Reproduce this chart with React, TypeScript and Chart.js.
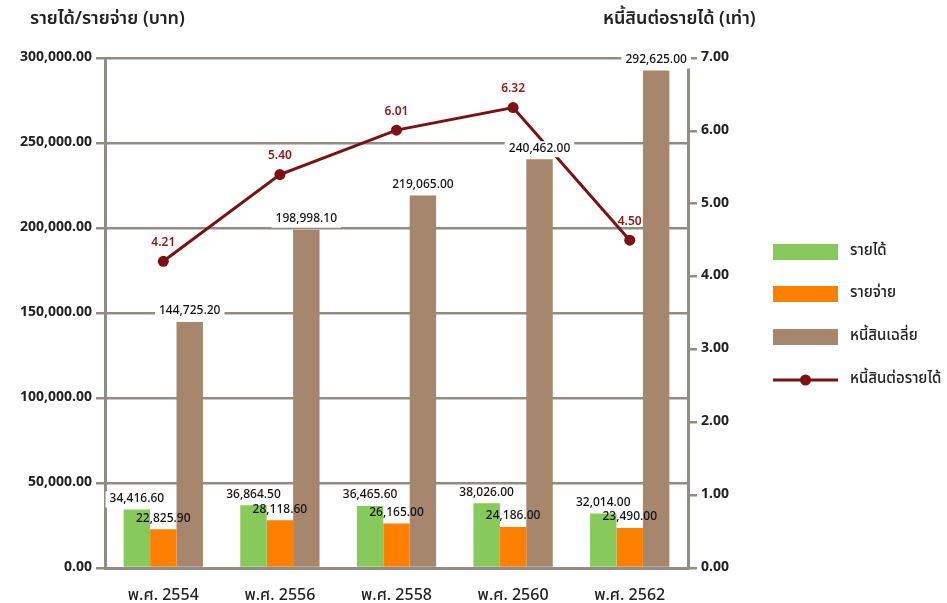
import React, { useEffect, useRef } from "react";
import { Chart, registerables } from "chart.js";

Chart.register(...registerables);

const categories = ["พ.ศ. 2554", "พ.ศ. 2556", "พ.ศ. 2558", "พ.ศ. 2560", "พ.ศ. 2562"];
const income = [34416.6, 36864.5, 36465.6, 38026.0, 32014.0];
const expense = [22825.9, 28118.6, 26165.0, 24186.0, 23490.0];
const avgDebt = [144725.2, 198998.1, 219065.0, 240462.0, 292625.0];
const debtRatio = [4.21, 5.4, 6.01, 6.32, 4.5];

const leftTitle = "รายได้/รายจ่าย (บาท)";
const rightTitle = "หนี้สินต่อรายได้ (เท่า)";

const FONT = "'Noto Sans Thai', 'Noto Sans', 'DejaVu Sans', sans-serif";
const GRID = "#8f8d86";
const GREEN = "#88c95c";
const ORANGE = "#ff8000";
const BROWN = "#a6866c";
const RED = "#7b1113";

const fmt = (v: number) =>
  v.toLocaleString("en-US", { minimumFractionDigits: 2, maximumFractionDigits: 2 });

const labelsPlugin = {
  id: "customLabels",
  afterDatasetsDraw(chart: any) {
    const ctx = chart.ctx;
    ctx.save();
    ctx.textAlign = "center";
    ctx.textBaseline = "middle";
    chart.data.datasets.forEach((ds: any, di: number) => {
      const meta = chart.getDatasetMeta(di);
      meta.data.forEach((el: any, i: number) => {
        const v = ds.data[i];
        if (ds.type === "line") {
          ctx.font = `600 12px ${FONT}`;
          ctx.fillStyle = "#8b1a1a";
          ctx.fillText(v.toFixed(2), el.x, el.y - 18);
        } else {
          const text = fmt(v);
          ctx.font = `500 12px ${FONT}`;
          const w = ctx.measureText(text).width;
          const y = el.y - 10;
          if (ds.label !== "รายจ่าย") {
            ctx.fillStyle = "#ffffff";
            ctx.fillRect(el.x - w / 2 - 4, y - 8, w + 8, 16);
          }
          ctx.fillStyle = "#111111";
          ctx.fillText(text, el.x, y);
        }
      });
    });
    ctx.restore();
  },
};

const decorPlugin = {
  id: "decor",
  afterDraw(chart: any) {
    const ctx = chart.ctx;
    ctx.save();
    // axis titles
    ctx.fillStyle = "#222222";
    ctx.font = `600 18px ${FONT}`;
    ctx.textAlign = "left";
    ctx.textBaseline = "middle";
    ctx.fillText(leftTitle, 30, 20);
    ctx.fillText(rightTitle, 603, 20);

    // legend
    const x0 = 773;
    const bw = 65;
    const rows = [252, 294, 337, 380];
    chart.data.datasets.forEach((ds: any) => {
      const cy = rows[ds.legendIndex];
      if (ds.type === "line") {
        ctx.strokeStyle = ds.borderColor;
        ctx.lineWidth = 3;
        ctx.beginPath();
        ctx.moveTo(x0, cy);
        ctx.lineTo(x0 + bw, cy);
        ctx.stroke();
        ctx.fillStyle = ds.borderColor;
        ctx.beginPath();
        ctx.arc(x0 + bw / 2, cy, 5.5, 0, Math.PI * 2);
        ctx.fill();
      } else {
        ctx.fillStyle = ds.backgroundColor;
        ctx.fillRect(x0, cy - 8, bw, 16);
      }
      ctx.fillStyle = "#222222";
      ctx.font = `500 15px ${FONT}`;
      ctx.fillText(ds.label, 850, cy);
    });
    ctx.restore();
  },
};

export default function App() {
  const ref = useRef<HTMLCanvasElement | null>(null);

  useEffect(() => {
    document.body.style.margin = "0";
    const canvas = ref.current;
    if (!canvas) return;
    const chart = new Chart(canvas, {
      type: "bar",
      data: {
        labels: categories,
        datasets: [
          {
            type: "line",
            label: "หนี้สินต่อรายได้",
            data: debtRatio,
            yAxisID: "y1",
            borderColor: RED,
            backgroundColor: RED,
            borderWidth: 3,
            pointRadius: 5.5,
            pointBackgroundColor: RED,
            pointBorderWidth: 0,
            order: 0,
            legendIndex: 3,
          } as any,
          {
            type: "bar",
            label: "รายได้",
            data: income,
            yAxisID: "y",
            backgroundColor: GREEN,
            order: 1,
            legendIndex: 0,
          } as any,
          {
            type: "bar",
            label: "รายจ่าย",
            data: expense,
            yAxisID: "y",
            backgroundColor: ORANGE,
            order: 1,
            legendIndex: 1,
          } as any,
          {
            type: "bar",
            label: "หนี้สินเฉลี่ย",
            data: avgDebt,
            yAxisID: "y",
            backgroundColor: BROWN,
            order: 1,
            legendIndex: 2,
          } as any,
        ],
      },
      options: {
        responsive: false,
        animation: false,
        layout: { padding: { top: 58, right: 197, left: 0, bottom: 0 } },
        datasets: {
          bar: { categoryPercentage: 0.68, barPercentage: 1.0 },
        } as any,
        plugins: {
          legend: { display: false },
          tooltip: { enabled: false },
        },
        scales: {
          x: {
            grid: { display: false },
            border: { display: true, color: GRID, width: 3 },
            ticks: {
              color: "#222222",
              font: { family: FONT, size: 16, weight: "500" },
              padding: 11,
            },
            afterFit(scale: any) {
              scale.height = 35;
            },
          },
          y: {
            position: "left",
            min: 0,
            max: 300000,
            ticks: {
              stepSize: 50000,
              color: "#222222",
              font: { family: FONT, size: 14, weight: "bold" },
              padding: 4,
              callback: (v: any) => fmt(Number(v)),
            },
            grid: { color: GRID, lineWidth: 2.5, tickLength: 9 },
            border: { display: true, color: GRID, width: 3 },
            afterFit(scale: any) {
              scale.width = 105;
            },
          },
          y1: {
            position: "right",
            min: 0,
            max: 7,
            ticks: {
              stepSize: 1,
              color: "#222222",
              font: { family: FONT, size: 14, weight: "bold" },
              padding: 4,
              callback: (v: any) => Number(v).toFixed(2),
            },
            grid: { color: GRID, lineWidth: 2.5, tickLength: 9, drawOnChartArea: false },
            border: { display: true, color: GRID, width: 3 },
            afterFit(scale: any) {
              scale.width = 62;
            },
          },
        },
      } as any,
      plugins: [labelsPlugin, decorPlugin],
    });
    return () => chart.destroy();
  }, []);

  return (
    <div style={{ width: 947, height: 603 }}>
      <canvas ref={ref} width={947} height={603} />
    </div>
  );
}
